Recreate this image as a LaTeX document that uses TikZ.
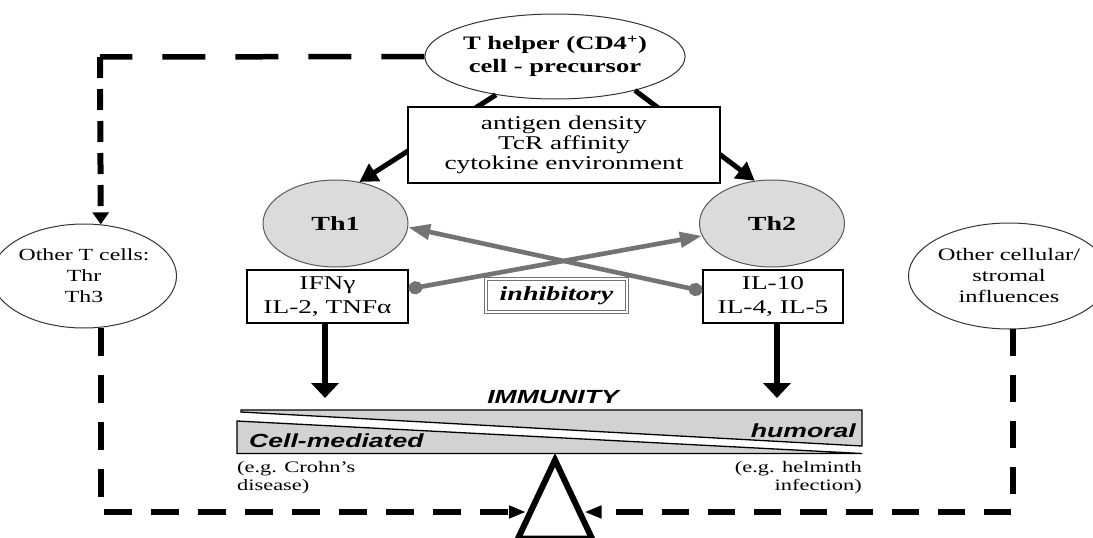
\documentclass[tikz,border=0pt]{standalone}
\usepackage{fontspec}
\setmainfont{Liberation Serif}[FakeStretch=1.4]
\newfontfamily\sansx{Liberation Sans}[FakeStretch=1.4]
\usetikzlibrary{arrows.meta,shapes.geometric}
\begin{document}
\begin{tikzpicture}[x=1pt,y=-1pt,
  box/.style={draw=black, line width=1.2pt, fill=white, inner sep=0pt, align=center},
  cell/.style={ellipse, draw=black!80, line width=1pt, fill=white, inner sep=0pt, align=center},
  thcell/.style={cell, fill=gray!28, draw=black!65},
  bigarrow/.style={line width=5pt, -{Triangle[length=18pt,width=20pt]}},
  downarrow/.style={line width=6.5pt, -{Triangle[length=15pt,width=27pt]}},
  inhibarrow/.style={draw=black!55, line width=4.6pt, {Circle[length=14pt,width=13pt]}-{Triangle[length=22pt,width=15pt]}},
  dashline/.style={line width=6pt},
  sansbi/.style={font=\sansx\bfseries\itshape\fontsize{19}{22}\selectfont, inner sep=0pt},
  smalltxt/.style={font=\fontsize{16}{18}\selectfont, inner sep=0pt},
  wedge/.style={fill=gray!35, draw=black, line width=1.3pt, line join=miter}
]
\useasboundingbox (0,0) rectangle (1093,538);

% cells
\node[cell, minimum width=209, minimum height=85, font=\bfseries\fontsize{19}{23}\selectfont] (top) at (555,56.5) {T helper (CD4\textsuperscript{+})\\cell - precursor};
\node[thcell, minimum width=145, minimum height=87, font=\bfseries\fontsize{20}{22}\selectfont] (th1) at (335.5,223.5) {Th1};
\node[thcell, minimum width=145, minimum height=87, font=\bfseries\fontsize{20}{22}\selectfont] (th2) at (772,223.5) {Th2};
\node[cell, minimum width=148, minimum height=104, font=\fontsize{17}{21}\selectfont] (otc) at (84,276) {Other T cells:\\Thr\\Th3};
\node[cell, minimum width=160, minimum height=106, font=\fontsize{17.5}{21}\selectfont] (oth) at (1009,276) {Other cellular/\\stromal\\influences};

% arrows from precursor
\draw[bigarrow] (top.213) -- (th1.60);
\draw[bigarrow] (top.-23) -- (th2.112);

% factor box
\node[box, minimum width=312, minimum height=76, font=\fontsize{19.5}{20}\selectfont] (fac) at (564,145) {antigen density\\TcR affinity\\cytokine environment};

% cytokine boxes
\node[box, minimum width=161, minimum height=53, font=\fontsize{19.5}{24}\selectfont] (ifn) at (327.5,296.5) {IFNγ\\IL-2, TNFα};
\node[box, minimum width=140, minimum height=53, font=\fontsize{19.5}{24}\selectfont] (il) at (773,296.5) {IL-10\\IL-4, IL-5};
\node[draw=black!55, double, double distance=2.2pt, line width=0.9pt, fill=white, minimum width=141, minimum height=33, inner sep=0pt, font=\bfseries\itshape\fontsize{20}{22}\selectfont] (inh) at (556.5,295.5) {inhibitory};

% inhibitory cross arrows
\draw[inhibarrow] ([yshift=7.5pt]ifn.east) -- (th2.190);
\draw[inhibarrow] ([yshift=5.5pt]il.west) -- (th1.-3);

% down arrows
\coordinate (d1) at (325,398);
\coordinate (d2) at (777,398);
\draw[downarrow] (ifn.south -| d1) -- (d1);
\draw[downarrow] (il.south -| d2) -- (d2);

% balance bar
\draw[wedge] (241,410) -- (862,410) -- (862,446) -- (241,412) -- cycle;
\draw[wedge] (237,421) -- (862,453.5) -- (237,453.5) -- cycle;
\node[sansbi] (imm) at (553,397) {IMMUNITY};
\node[sansbi, anchor=east] (hum) at (856,431) {humoral};
\node[sansbi, anchor=west] (cm) at (249,441) {Cell-mediated};
\node[smalltxt, anchor=west, align=left] (eg1) at (237,478) {(e.g. Crohn's\\disease)};
\node[smalltxt, anchor=east, align=right] (eg2) at (862,478) {(e.g. helminth\\infection)};

% fulcrum
\begin{scope}
\clip (0,0) rectangle (1093,538);
\draw[line width=6pt, line join=miter] (518,538.5) -- (555,460) -- (592,538.5) -- cycle;
\end{scope}
\coordinate (tl) at (526,512);
\coordinate (tr) at (584.5,512);

% dashed influence lines
\coordinate (cn) at (100,57);
\draw[dashline, line width=5.5pt, dash pattern=on 43pt off 30pt] (top.west) -- (cn);
\draw[dashline, line width=6pt, dash pattern=on 21pt off 11pt, -{Triangle[length=12pt,width=16pt]}] (cn) -- (otc.72);
\draw[dashline, dash pattern=on 28pt off 19pt, -{Triangle[length=17pt,width=12pt]}] (otc.-72) |- (tl);
\draw[dashline, dash pattern=on 27pt off 19pt, -{Triangle[length=17pt,width=12pt]}] (oth.-86) |- (tr);
\end{tikzpicture}
\end{document}
